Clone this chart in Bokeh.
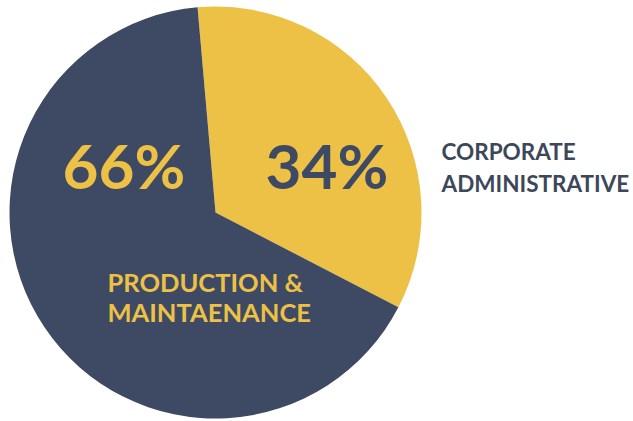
import math
from bokeh.plotting import figure
from bokeh.models import Range1d
from bokeh.core.properties import value
from bokeh.embed import file_html
from bokeh.resources import INLINE

categories = ["CORPORATE\nADMINISTRATIVE", "PRODUCTION &\nMAINTAENANCE"]
shares = [34, 66]
colors = ["#ecc146", "#3e4a64"]

W, H = 633, 421
p = figure(width=W, height=H, output_backend="svg", toolbar_location=None,
           x_range=Range1d(0, W), y_range=Range1d(0, H), min_border=0)
p.axis.visible = False
p.grid.visible = False
p.outline_line_color = None
p.background_fill_color = "white"

cx, cy, r = 215, 209, 206
total = sum(shares)
start = math.radians(95)
starts, ends = [], []
acc = 0
for v in shares:
    a0 = start - acc / total * 2 * math.pi
    acc += v
    a1 = start - acc / total * 2 * math.pi
    starts.append(a1)
    ends.append(a0)
p.wedge(x=[cx] * len(shares), y=[cy] * len(shares), radius=r,
        start_angle=starts, end_angle=ends, fill_color=colors, line_color=None)

font = value("Lato")
# percentage labels
p.text(x=[265], y=[257], text=[f"{shares[0]}%"], text_font=font, text_font_style="bold",
       text_font_size="62px", text_color=colors[1], text_baseline="middle", text_align="left")
p.text(x=[62], y=[257], text=[f"{shares[1]}%"], text_font=font, text_font_style="bold",
       text_font_size="62px", text_color=colors[0], text_baseline="middle", text_align="left")

# category labels
c0 = categories[0].split("\n")
p.text(x=[441, 441], y=[270, 238], text=c0, text_font=font, text_font_style="bold",
       text_font_size="22.5px", text_color="#3d475a", text_baseline="middle", text_align="left")
c1 = categories[1].split("\n")
p.text(x=[107, 107], y=[140, 110], text=c1, text_font=font, text_font_style="bold",
       text_font_size="25.5px", text_color=colors[0], text_baseline="middle", text_align="left")

open("out.html", "w").write(file_html(p, INLINE))
